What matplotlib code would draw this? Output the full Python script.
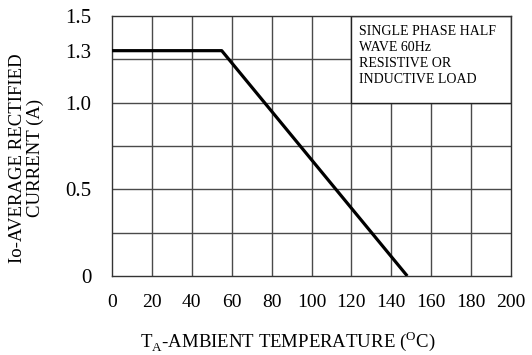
import matplotlib
matplotlib.use("Agg")
import matplotlib.pyplot as plt
from matplotlib.patches import Rectangle

plt.rcParams['font.family'] = ['Liberation Serif', 'DejaVu Serif']
plt.rcParams['mathtext.fontset'] = 'custom'
plt.rcParams['mathtext.rm'] = 'Liberation Serif'

# derating curve: ambient temperature (C) vs average rectified current (A)
temp_c = [0, 55, 148]
current_a = [1.3, 1.3, 0.0]

x_ticks = [0, 20, 40, 60, 80, 100, 120, 140, 160, 180, 200]
y_ticks = [0, 0.5, 1.0, 1.3, 1.5]
y_tick_labels = ['0', '0.5', '1.0', '1.3', '1.5']
y_grid = [0.25, 0.5, 0.75, 1.0, 1.25]

note_lines = ['SINGLE PHASE HALF', 'WAVE 60Hz', 'RESISTIVE OR', 'INDUCTIVE LOAD']

fig = plt.figure(figsize=(5.32, 3.55), dpi=100)
ax = fig.add_axes([112 / 532, 1 - 276 / 355, 399 / 532, 260 / 355])

ax.set_xlim(0, 200)
ax.set_ylim(0, 1.5)

# grid lines on minor ticks so the labelled ticks can differ
ax.xaxis.remove_overlapping_locs = False
ax.yaxis.remove_overlapping_locs = False
ax.set_xticks(x_ticks)
ax.set_xticks(x_ticks[1:-1], minor=True)
ax.set_yticks(y_ticks)
ax.set_yticklabels(y_tick_labels)
ax.set_yticks(y_grid, minor=True)
ax.grid(which='minor', color='#4a4a4a', linewidth=1.0)
ax.set_axisbelow(True)
ax.tick_params(which='both', length=0)
ax.tick_params(axis='x', pad=13, labelsize=14)
ax.tick_params(axis='y', pad=15, labelsize=15)

for sp in ax.spines.values():
    sp.set_color('#333333')
    sp.set_linewidth(1.0)

# note box in the upper right corner covers the grid
ax.add_patch(Rectangle((120, 1.0), 80, 0.5, facecolor='white',
                       edgecolor='#222222', linewidth=1.0, zorder=1))
ax.text(124, 1.447, '\n'.join(note_lines), fontsize=10, va='top', ha='left',
        linespacing=1.3, zorder=2)

ax.plot(temp_c, current_a, color='black', linewidth=2.3, zorder=3,
        solid_capstyle='butt')

fig.text(18 / 532, 1 - 158 / 355, 'Io-AVERAGE RECTIFIED', rotation=90,
         ha='center', va='center', fontsize=13.5)
fig.text(35 / 532, 1 - 158 / 355, 'CURRENT (A)', rotation=90,
         ha='center', va='center', fontsize=13.5)
fig.text(288 / 532, 1 - 341 / 355,
         r'T$_\mathrm{A}$-AMBIENT TEMPERATURE ($^\mathrm{O}$C)',
         ha='center', va='center', fontsize=13.5)

fig.savefig('out.png', dpi=100)
